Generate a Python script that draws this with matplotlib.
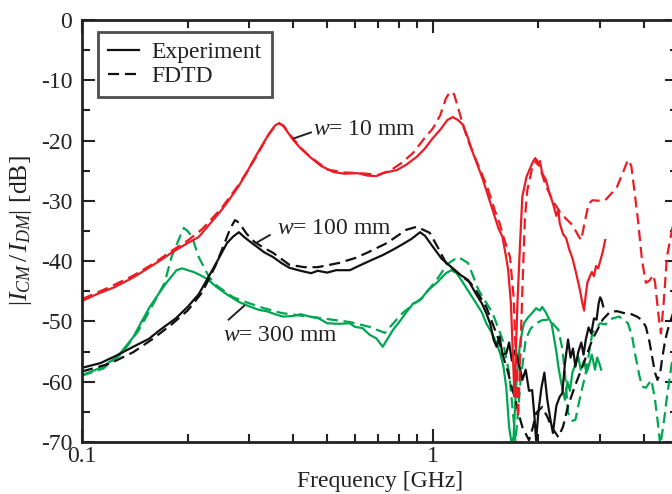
import matplotlib
matplotlib.use("Agg")
import matplotlib.pyplot as plt
from matplotlib.ticker import FixedLocator, NullFormatter, FixedFormatter
from matplotlib.lines import Line2D

plt.rcParams['font.family'] = ['Liberation Serif', 'DejaVu Serif']
plt.rcParams['mathtext.fontset'] = 'custom'
plt.rcParams['mathtext.rm'] = 'Liberation Serif'
plt.rcParams['mathtext.it'] = 'Liberation Serif:italic'
plt.rcParams['axes.unicode_minus'] = False

# ---------------- data (frequency in GHz, ratio in dB) ----------------
red_exp_f = [0.1, 0.11, 0.124, 0.14, 0.155, 0.17, 0.18, 0.2, 0.215, 0.23, 0.25, 0.265, 0.28, 0.295,
             0.305, 0.32, 0.34, 0.355, 0.365, 0.375, 0.39, 0.40, 0.42, 0.446, 0.48, 0.52, 0.56, 0.61,
             0.65, 0.69, 0.72, 0.76, 0.79, 0.84, 0.9, 0.95, 1.0, 1.05, 1.1, 1.14, 1.18, 1.22, 1.26,
             1.3, 1.35, 1.39, 1.44, 1.49, 1.54, 1.58, 1.62, 1.64, 1.67, 1.69, 1.71, 1.72, 1.74, 1.77,
             1.80, 1.85, 1.9, 1.93, 1.96, 1.99, 2.02, 2.05, 2.1, 2.15, 2.2, 2.25, 2.28, 2.3, 2.35,
             2.4, 2.45, 2.5, 2.56, 2.62, 2.67, 2.7, 2.73, 2.76, 2.8, 2.84, 2.88, 2.92, 2.96, 3.0,
             3.05, 3.1]
red_exp_db = [-46.6, -45.5, -44.3, -42.7, -41.1, -39.6, -38.6, -37.0, -36.0, -34.0, -31.5, -29.5,
              -27.5, -25.3, -23.7, -21.6, -19.0, -17.5, -17.1, -17.6, -19.0, -19.9, -21.3, -22.7,
              -24.2, -25.2, -25.5, -25.4, -25.8, -25.9, -25.4, -25.1, -24.9, -24.0, -22.7, -21.3,
              -19.6, -18.2, -16.6, -16.1, -16.6, -17.4, -19.6, -22.0, -24.5, -26.5, -29.3, -32.0,
              -34.6, -36.0, -39.5, -41.5, -47.0, -55.0, -62.5, -58.0, -48.0, -38.0, -29.3, -26.0,
              -24.4, -23.5, -22.9, -24.0, -23.4, -25.4, -26.5, -28.7, -30.4, -32.5, -31.5, -33.7,
              -35.5, -36.2, -38.1, -39.5, -41.9, -44.5, -47.0, -48.2, -45.5, -43.5, -42.6, -41.8,
              -42.5, -40.8, -41.2, -40.0, -38.5, -36.5]

red_fdtd_f = [0.1, 0.12, 0.14, 0.16, 0.18, 0.2, 0.22, 0.25, 0.28, 0.31, 0.34, 0.355, 0.365, 0.375,
              0.39, 0.42, 0.45, 0.5, 0.56, 0.62, 0.7, 0.76, 0.82, 0.88, 0.95, 1.0, 1.05, 1.09, 1.12,
              1.15, 1.18, 1.22, 1.26, 1.35, 1.43, 1.5, 1.55, 1.6, 1.66, 1.7, 1.73, 1.75, 1.77, 1.8,
              1.83, 1.86, 1.92, 1.98, 2.02, 2.1, 2.2, 2.3, 2.4, 2.5, 2.6, 2.65, 2.7, 2.78, 2.85,
              3.0, 3.1, 3.25, 3.35, 3.5, 3.6, 3.68, 3.75, 3.85, 3.95, 4.05, 4.15, 4.25, 4.3, 4.4,
              4.47, 4.55, 4.65, 4.8, 4.95]
red_fdtd_db = [-46.3, -44.3, -42.4, -40.4, -38.3, -36.6, -34.7, -31.2, -27.3, -23.2, -19.1, -17.6,
               -17.2, -17.5, -18.9, -21.2, -22.8, -24.8, -25.3, -25.4, -25.7, -24.9, -23.6, -22.0,
               -19.5, -18.0, -15.8, -13.0, -11.9, -12.3, -14.5, -17.5, -20.0, -24.2, -27.7, -31.5,
               -33.7, -36.5, -39.3, -46.0, -58.0, -66.0, -58.0, -45.0, -33.0, -28.2, -24.5, -23.2,
               -24.5, -27.5, -30.0, -31.8, -33.0, -34.0, -35.8, -36.5, -34.0, -30.5, -29.9, -30.0,
               -29.9, -28.6, -27.7, -25.0, -23.2, -24.2, -28.0, -33.5, -40.0, -43.6, -43.2, -42.3,
               -43.5, -49.0, -52.0, -47.0, -39.3, -35.0, -31.0]

blk_exp_f = [0.1, 0.113, 0.125, 0.14, 0.155, 0.167, 0.185, 0.2, 0.215, 0.227, 0.243, 0.259, 0.27,
             0.28, 0.29, 0.305, 0.315, 0.33, 0.35, 0.37, 0.39, 0.42, 0.45, 0.47, 0.5, 0.53, 0.58,
             0.62, 0.67, 0.72, 0.77, 0.82, 0.87, 0.92, 0.95, 1.0, 1.06, 1.13, 1.2, 1.26, 1.33, 1.38,
             1.42, 1.46, 1.49, 1.52, 1.55, 1.58, 1.62, 1.65, 1.68, 1.72, 1.76, 1.8, 1.84, 1.88,
             1.92, 1.95, 1.97, 2.0, 2.04, 2.08, 2.12, 2.16, 2.2, 2.25, 2.3, 2.34, 2.38, 2.43, 2.47,
             2.51, 2.55, 2.6, 2.65, 2.69, 2.73, 2.78, 2.83, 2.88, 2.93, 2.97, 3.0, 3.03, 3.06]
blk_exp_db = [-57.7, -56.9, -55.7, -54.2, -52.9, -51.4, -49.5, -47.6, -45.5, -43.1, -40.0, -37.0,
              -35.9, -35.2, -36.0, -37.0, -37.6, -38.5, -39.3, -40.3, -41.1, -41.6, -42.0, -41.6,
              -41.9, -41.5, -41.5, -40.7, -39.8, -39.0, -38.1, -37.2, -36.3, -35.2, -35.8, -37.6,
              -39.6, -41.0, -42.3, -43.1, -45.5, -47.0, -48.6, -50.5, -53.0, -54.2, -52.5, -55.5,
              -55.3, -53.5, -56.5, -54.7, -57.0, -59.7, -58.0, -61.5, -61.4, -66.0, -69.7, -65.0,
              -61.0, -58.5, -63.0, -66.0, -68.5, -64.0, -62.5, -61.9, -57.0, -53.0, -56.0, -54.5,
              -57.5, -55.0, -53.5, -55.5, -53.0, -51.0, -52.0, -49.5, -49.7, -47.0, -46.0, -46.5,
              -47.5]

blk_fdtd_f = [0.1, 0.12, 0.14, 0.16, 0.18, 0.2, 0.22, 0.24, 0.255, 0.265, 0.273, 0.28, 0.295, 0.31,
              0.33, 0.35, 0.39, 0.43, 0.47, 0.54, 0.6, 0.65, 0.74, 0.84, 0.9, 0.98, 1.04, 1.09, 1.18,
              1.28, 1.35, 1.42, 1.48, 1.54, 1.6, 1.64, 1.68, 1.72, 1.76, 1.8, 1.88, 1.93, 1.97, 2.05,
              2.12, 2.18, 2.28, 2.35, 2.43, 2.55, 2.67, 2.85, 3.05, 3.2, 3.35, 3.5, 3.65, 3.82, 3.95,
              4.05, 4.15, 4.22, 4.3, 4.37, 4.45, 4.5, 4.6, 4.7, 4.85, 4.95]
blk_fdtd_db = [-58.3, -57.0, -55.1, -52.8, -50.5, -48.2, -45.2, -40.8, -37.0, -34.5, -33.2, -33.6,
               -35.5, -36.8, -37.8, -38.6, -40.6, -41.0, -41.0, -40.3, -39.5, -38.6, -37.0, -34.8,
               -34.3, -35.3, -38.0, -40.3, -42.0, -43.6, -45.5, -47.6, -50.3, -53.0, -56.5, -58.5,
               -61.0, -63.0, -65.5, -67.5, -69.7, -67.5, -65.2, -64.2, -65.8, -67.5, -69.2, -67.5,
               -64.0, -60.5, -57.5, -53.0, -49.7, -48.4, -48.3, -48.6, -48.7, -49.2, -49.8, -50.9,
               -53.5, -55.9, -58.5, -59.7, -58.5, -56.4, -53.0, -50.9, -48.5, -47.5]

grn_exp_f = [0.1, 0.113, 0.126, 0.14, 0.148, 0.156, 0.165, 0.174, 0.186, 0.193, 0.2, 0.208, 0.217,
             0.228, 0.242, 0.26, 0.281, 0.3, 0.32, 0.336, 0.355, 0.374, 0.4, 0.42, 0.446, 0.47, 0.5,
             0.54, 0.58, 0.6, 0.63, 0.66, 0.69, 0.72, 0.75, 0.77, 0.8, 0.84, 0.88, 0.92, 0.97, 1.03,
             1.09, 1.13, 1.17, 1.22, 1.27, 1.33, 1.38, 1.42, 1.47, 1.52, 1.56, 1.59, 1.62, 1.65,
             1.68, 1.7, 1.72, 1.74, 1.77, 1.8, 1.82, 1.87, 1.92, 1.97, 2.02, 2.05, 2.1, 2.14, 2.18,
             2.22, 2.25, 2.28, 2.32, 2.38, 2.42, 2.46, 2.5, 2.55, 2.6, 2.64, 2.7, 2.74, 2.78, 2.84,
             2.9, 2.94, 2.98, 3.02]
grn_exp_db = [-58.9, -57.7, -55.9, -52.6, -50.0, -47.6, -45.5, -43.6, -41.5, -41.2, -41.5, -41.8,
              -42.3, -43.0, -44.3, -45.6, -46.8, -47.5, -48.1, -48.3, -48.8, -49.2, -49.1, -48.8,
              -49.2, -49.4, -50.3, -50.4, -50.3, -50.9, -51.1, -52.2, -52.8, -54.2, -52.5, -51.4,
              -50.2, -48.5, -47.0, -46.5, -44.8, -43.5, -42.0, -41.5, -42.0, -43.6, -45.2, -47.0,
              -48.5, -50.3, -51.8, -53.6, -55.5, -57.5, -61.0, -67.5, -70.5, -69.0, -63.0, -58.5,
              -54.0, -51.5, -50.3, -49.3, -48.6, -47.8, -48.2, -47.6, -48.5, -49.5, -50.3, -53.0,
              -55.0, -57.5, -60.0, -63.0, -60.0, -61.5, -58.5, -57.0, -55.9, -58.0, -56.5, -58.5,
              -57.5, -55.5, -58.0, -56.0, -56.9, -58.0]

grn_fdtd_f = [0.1, 0.115, 0.13, 0.145, 0.16, 0.172, 0.18, 0.19, 0.195, 0.2, 0.206, 0.215, 0.23,
              0.24, 0.255, 0.27, 0.3, 0.33, 0.37, 0.44, 0.5, 0.58, 0.66, 0.73, 0.78, 0.82, 0.88,
              0.94, 1.04, 1.1, 1.18, 1.26, 1.35, 1.48, 1.58, 1.65, 1.7, 1.72, 1.75, 1.78, 1.84, 1.9,
              1.97, 2.05, 2.15, 2.28, 2.34, 2.38, 2.43, 2.5, 2.55, 2.62, 2.73, 2.85, 3.0, 3.1, 3.25,
              3.4, 3.6, 3.7, 3.77, 3.88, 3.95, 4.05, 4.2, 4.3, 4.37, 4.45, 4.55, 4.65, 4.8, 4.95]
grn_fdtd_db = [-59.0, -57.8, -55.3, -51.5, -47.0, -43.6, -39.3, -36.0, -34.5, -35.0, -36.0, -39.3,
               -42.6, -43.9, -45.0, -46.0, -47.0, -47.8, -48.6, -49.2, -49.6, -50.1, -50.9, -51.9,
               -50.0, -48.6, -47.2, -45.9, -42.6, -40.5, -39.3, -40.3, -44.8, -48.6, -53.0, -58.5,
               -66.3, -70.0, -65.0, -59.7, -53.0, -51.2, -50.3, -49.8, -49.7, -51.4, -54.5, -58.5,
               -65.2, -66.5, -66.3, -63.0, -58.5, -51.9, -50.3, -50.5, -49.5, -49.2, -50.3, -52.5,
               -55.3, -59.0, -60.8, -61.0, -59.7, -63.0, -66.3, -70.5, -67.0, -62.5, -57.0, -53.0]

y_ticks = [0, -10, -20, -30, -40, -50, -60, -70]
x_tick_labels = ["0.1", "1"]
series_labels = ["Experiment", "FDTD"]
width_labels = [r"$w$= 10 mm", r"$w$= 100 mm", r"$w$= 300 mm"]

RED = "#ec1c24"
GREEN = "#00a651"
BLACK = "#111111"
INK = "#222222"

fig = plt.figure(figsize=(6.72, 4.94), dpi=100)
ax = fig.add_axes([82 / 672, 52 / 494, 596 / 672, 422 / 494])

LW = 1.6
DASH = (5, 2.6)
ax.plot(grn_fdtd_f, grn_fdtd_db, color=GREEN, lw=LW, dashes=DASH)
ax.plot(grn_exp_f, grn_exp_db, color=GREEN, lw=LW)
ax.plot(blk_fdtd_f, blk_fdtd_db, color=BLACK, lw=LW, dashes=DASH)
ax.plot(blk_exp_f, blk_exp_db, color=BLACK, lw=LW)
ax.plot(red_fdtd_f, red_fdtd_db, color=RED, lw=LW, dashes=DASH)
ax.plot(red_exp_f, red_exp_db, color=RED, lw=LW)

ax.set_xscale('log')
ax.set_xlim(0.1, 5.0)
ax.set_ylim(-70, 0)

ax.xaxis.set_major_locator(FixedLocator([0.1, 1.0]))
ax.xaxis.set_major_formatter(FixedFormatter(x_tick_labels))
ax.xaxis.set_minor_locator(FixedLocator([0.2, 0.3, 0.4, 0.5, 0.6, 0.7, 0.8, 0.9,
                                         2, 3, 4, 5]))
ax.xaxis.set_minor_formatter(NullFormatter())
ax.set_yticks(y_ticks)
ax.set_yticklabels([str(v) for v in y_ticks])
ax.yaxis.set_minor_locator(FixedLocator([-5, -15, -25, -35, -45, -55, -65]))

FS = 17
ax.tick_params(which='both', direction='in', top=True, right=True, width=1.5, colors=INK,
               labelsize=FS)
ax.tick_params(which='major', length=9.5)
ax.tick_params(which='minor', length=5.8)
ax.tick_params(axis='x', which='major', pad=3)
ax.tick_params(axis='y', which='major', pad=7)
for sp in ax.spines.values():
    sp.set_linewidth(2.0)
    sp.set_color(INK)

ax.set_xlabel("Frequency [GHz]", fontsize=FS, labelpad=3, color=INK)
ax.set_ylabel(r"$|I_{CM}\,/\,I_{DM}|$ [dB]", fontsize=18.5, labelpad=5, color=INK)

# legend
handles = [Line2D([], [], color=BLACK, lw=LW),
           Line2D([], [], color=BLACK, lw=LW, dashes=DASH)]
leg = ax.legend(handles, series_labels, loc='upper left',
                bbox_to_anchor=(16 / 596, 410 / 422), borderaxespad=0, fontsize=FS,
                frameon=True, fancybox=False, handlelength=1.3, handletextpad=0.55,
                labelspacing=0.1, borderpad=0.42)
leg.get_frame().set_edgecolor(INK)
leg.get_frame().set_linewidth(2.0)
for t in leg.get_texts():
    t.set_color(INK)

# annotations: leader lines + labels
lead_kw = dict(color=INK, lw=1.4, solid_capstyle='butt')
txt_kw = dict(fontsize=FS, ha='left', va='center', color=INK)
ax.plot([0.399, 0.452], [-19.7, -18.6], **lead_kw)
ax.text(0.455, -18.2, width_labels[0], **txt_kw)
ax.plot([0.313, 0.345], [-37.0, -35.6], **lead_kw)
ax.text(0.359, -34.6, width_labels[1], **txt_kw)
ax.plot([0.2606, 0.2913], [-49.8, -47.3], **lead_kw)
ax.text(0.2520, -52.3, width_labels[2], **txt_kw)

fig.savefig("out.png", dpi=100)
